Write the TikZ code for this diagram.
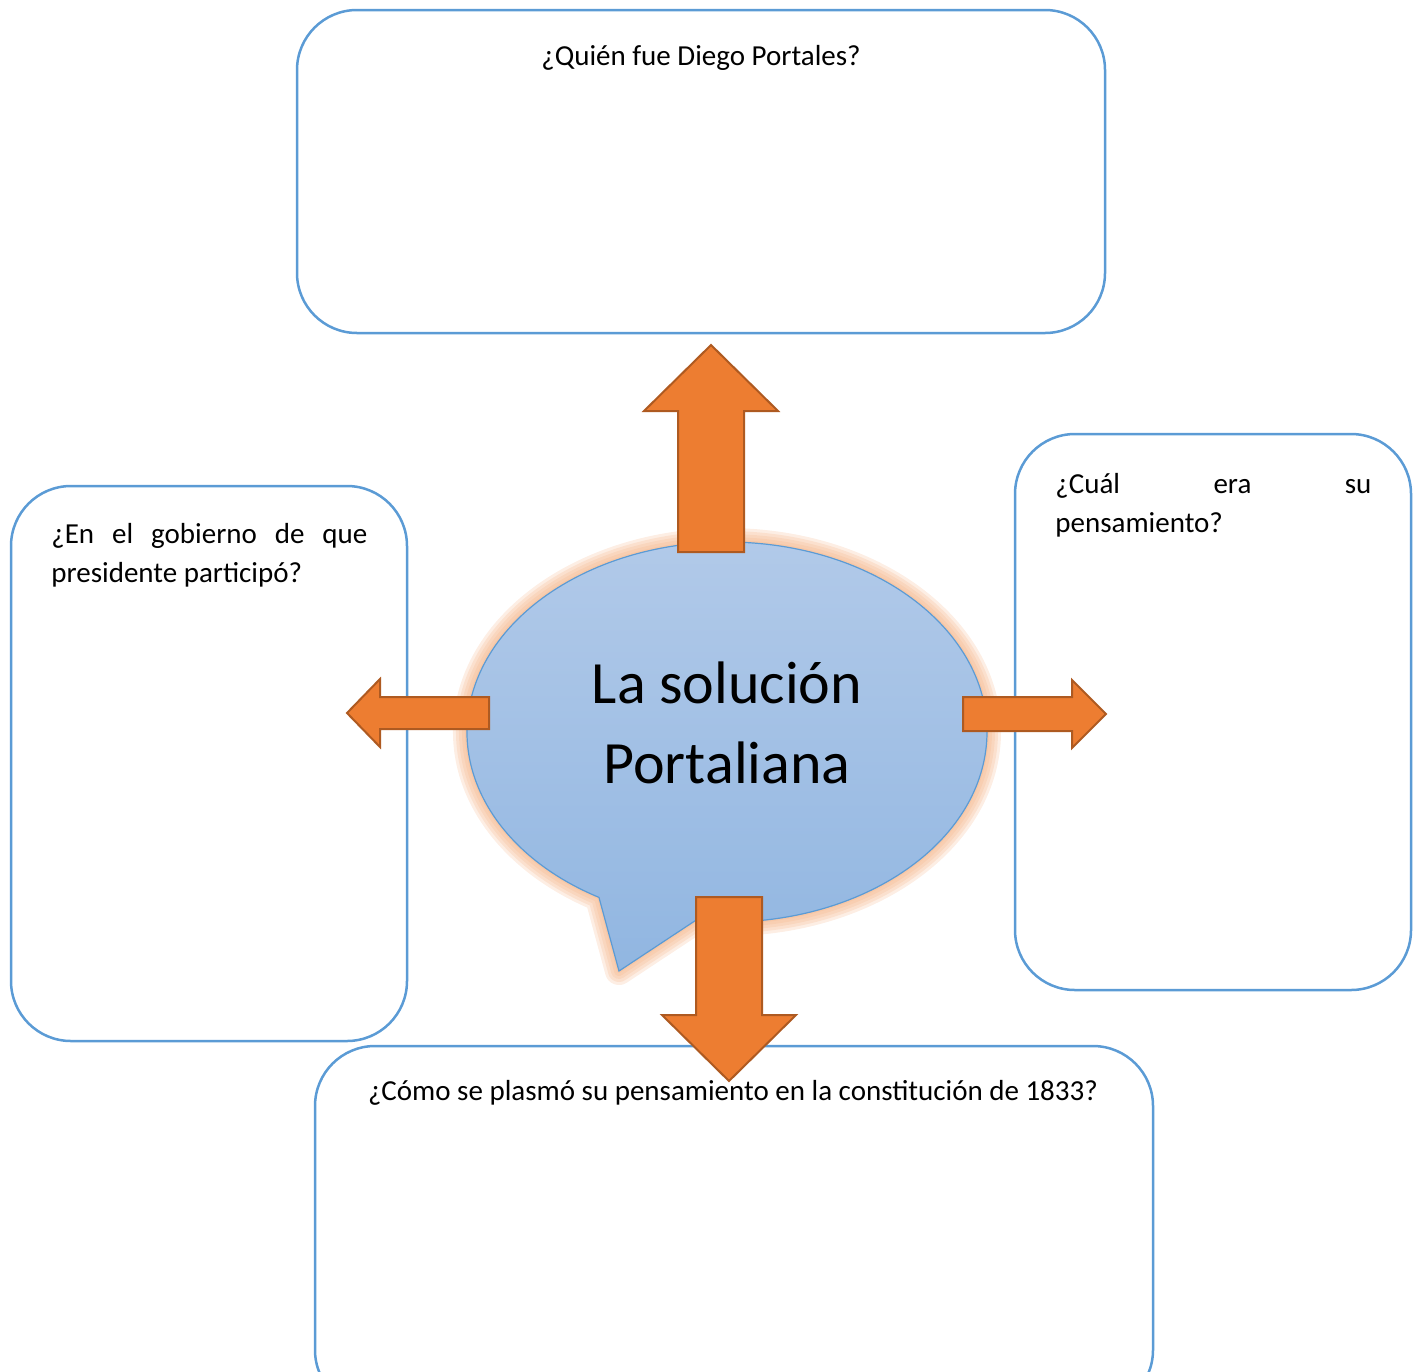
\documentclass[tikz,border=0pt]{standalone}
\usepackage{fontspec}
\setmainfont{Carlito}
\usepackage{tikz}
\usetikzlibrary{positioning}
\definecolor{boxblue}{HTML}{5B9BD5}
\definecolor{arroworange}{HTML}{ED7D31}
\definecolor{arrowedge}{HTML}{AE5A21}
\definecolor{glowcolor}{HTML}{F4B183}
\definecolor{bubtop}{RGB}{178,202,233}
\definecolor{bubbot}{RGB}{145,182,225}
\newcommand{\qfont}{\fontsize{14.5}{19.5}\selectfont}
\newcommand{\titlefont}{\fontsize{30}{40}\selectfont}
\newcommand{\bubblepath}{(695.3,920.6) arc[start angle=97,end angle=-240.5,x radius=260,y radius=190] -- (619,971) -- cycle}

\begin{document}
\begin{tikzpicture}[x=0.5pt,y=-0.5pt]
 \tikzset{qbox/.style={rectangle,draw=boxblue,line width=1.25pt,rounded corners=30pt,inner sep=0pt},
   qtext/.style={font=\qfont,inner sep=0pt},
   blockarrow/.style={fill=arroworange,draw=arrowedge,line width=1pt,line join=miter},
   glow/.style={draw=glowcolor,line join=round,opacity=0.22}}
 \clip (0,0) rectangle (1418,1371);

 % question boxes
 \node[qbox,minimum width=404pt,minimum height=161.5pt] (who) at (701,171.5) {};
 \node[qbox,minimum width=198pt,minimum height=277.5pt] (president) at (209,763.5) {};
 \node[qbox,minimum width=198pt,minimum height=278pt] (thought) at (1213,712) {};
 \node[qbox,minimum width=419pt,minimum height=182pt] (constitution) at (734,1228) {};

 \node[qtext,anchor=base] (whoq) at (701,65) {¿Quién fue Diego Portales?};
 \node[qtext,anchor=north west,text width=158pt,align=justify] (presidentq) at (51,523)
   {¿En\hfill el\hfill gobierno\hfill de\hfill que\\ presidente participó?};
 \node[qtext,anchor=north west,text width=158pt,align=justify] (thoughtq) at (1055,473)
   {¿Cuál\hfill era\hfill su\\ pensamiento?};
 \node[qtext,anchor=base] (constitutionq) at (733,1100) {¿Cómo se plasmó su pensamiento en la constitución de 1833?};

 % speech bubble
 \foreach \w in {14,11,8,5,2}
   \draw[glow,line width=\w pt] \bubblepath;
 \shade[top color=bubtop,bottom color=bubbot] \bubblepath;
 \draw[boxblue,line width=0.6pt] \bubblepath;
 \node[font=\titlefont,align=center,inner sep=0pt] (title) at (727,723) {La solución\\Portaliana};

 % block arrows
 \draw[blockarrow] (678,552) -- (678,411) -- (644,411) -- (711,345) -- (778,411) -- (744,411) -- (744,552) -- cycle;
 \draw[blockarrow] (696,897) -- (696,1015) -- (662,1015) -- (729,1081) -- (796,1015) -- (762,1015) -- (762,897) -- cycle;
 \draw[blockarrow] (489,697) -- (380,697) -- (380,679) -- (347,713) -- (380,747) -- (380,729) -- (489,729) -- cycle;
 \draw[blockarrow] (963,697) -- (1072,697) -- (1072,680) -- (1106,714) -- (1072,748) -- (1072,731) -- (963,731) -- cycle;
\end{tikzpicture}
\end{document}
